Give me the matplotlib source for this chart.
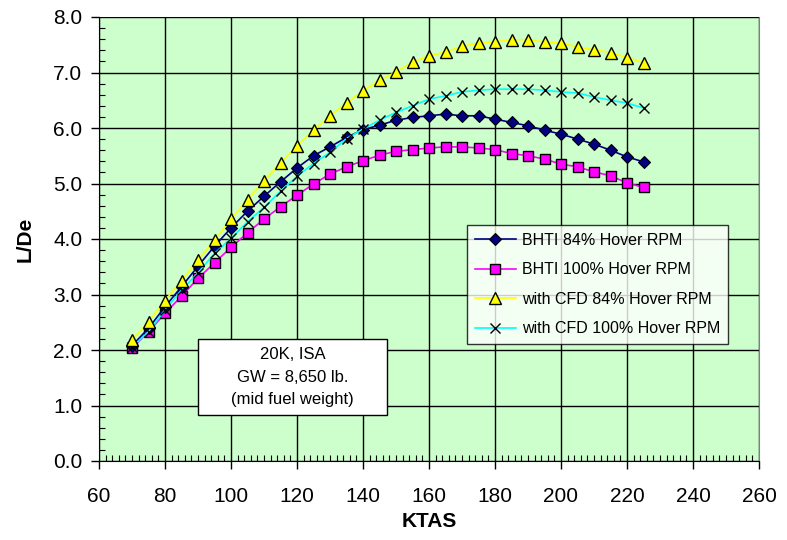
import matplotlib
matplotlib.use("Agg")
from matplotlib import pyplot as plt
from matplotlib.patches import Rectangle
from matplotlib.ticker import MultipleLocator, FormatStrFormatter

plt.rcParams['font.family'] = ['Liberation Sans', 'DejaVu Sans']

ktas = [70, 75, 80, 85, 90, 95, 100, 105, 110, 115, 120, 125, 130, 135, 140, 145,
        150, 155, 160, 165, 170, 175, 180, 185, 190, 195, 200, 205, 210, 215, 220, 225]

bhti_84 = [2.08, 2.39, 2.78, 3.14, 3.51, 3.87, 4.20, 4.50, 4.77, 5.03, 5.28, 5.50,
           5.66, 5.83, 5.97, 6.05, 6.14, 6.19, 6.22, 6.25, 6.22, 6.22, 6.16, 6.10,
           6.04, 5.96, 5.89, 5.80, 5.71, 5.60, 5.48, 5.39]
bhti_100 = [2.03, 2.33, 2.66, 2.97, 3.29, 3.57, 3.85, 4.11, 4.36, 4.58, 4.79, 4.99,
            5.17, 5.30, 5.41, 5.51, 5.58, 5.61, 5.64, 5.66, 5.66, 5.64, 5.61, 5.54,
            5.50, 5.44, 5.35, 5.30, 5.21, 5.14, 5.01, 4.93]
cfd_84 = [2.18, 2.51, 2.89, 3.25, 3.62, 3.98, 4.36, 4.71, 5.05, 5.37, 5.68, 5.96,
          6.22, 6.45, 6.67, 6.86, 7.01, 7.19, 7.30, 7.37, 7.47, 7.53, 7.55, 7.59,
          7.59, 7.55, 7.53, 7.46, 7.41, 7.36, 7.27, 7.18]
cfd_100 = [2.05, 2.33, 2.72, 3.08, 3.39, 3.74, 4.01, 4.31, 4.57, 4.86, 5.13, 5.36,
           5.56, 5.81, 5.98, 6.14, 6.28, 6.40, 6.52, 6.58, 6.65, 6.68, 6.70, 6.70,
           6.70, 6.68, 6.65, 6.63, 6.56, 6.50, 6.45, 6.36]

labels = ["BHTI 84% Hover RPM", "BHTI 100% Hover RPM",
          "with CFD 84% Hover RPM", "with CFD 100% Hover RPM"]
note = ["20K, ISA", "GW = 8,650 lb.", "(mid fuel weight)"]

fig = plt.figure(figsize=(7.87, 5.40), dpi=100)
ax = fig.add_axes([99/787, 1-461/540, 660/787, 444/540])
ax.set_facecolor("#ccffcc")

ax.plot(ktas, bhti_84, "-D", color="#000080", lw=1.2, ms=6.5,
        mfc="#000080", mec="black", mew=0.8, label=labels[0], zorder=4)
ax.plot(ktas, bhti_100, "-s", color="#ff00ff", lw=1.2, ms=6.5,
        mfc="#ff00ff", mec="black", mew=1.0, label=labels[1], zorder=3)
ax.plot(ktas, cfd_84, "-^", color="#ffff00", lw=1.2, ms=8,
        mfc="#ffff00", mec="black", mew=1.0, label=labels[2], zorder=5)
ax.plot(ktas, cfd_100, "-x", color="#00ffff", lw=1.2, ms=7,
        mec="black", mew=1.0, label=labels[3], zorder=4)

ax.set_xlim(60, 260)
ax.set_ylim(0, 8)
ax.xaxis.set_major_locator(MultipleLocator(20))
ax.xaxis.set_minor_locator(MultipleLocator(2))
ax.yaxis.set_major_locator(MultipleLocator(1))
ax.yaxis.set_minor_locator(MultipleLocator(0.2))
ax.yaxis.set_major_formatter(FormatStrFormatter("%.1f"))
ax.tick_params(which="major", direction="out", length=6, width=1, labelsize=15, colors="black")
ax.tick_params(axis="x", which="major", pad=13)
ax.tick_params(axis="y", which="major", pad=6)
ax.tick_params(which="minor", direction="in", length=4, width=0.8)
ax.grid(True, which="major", color="black", lw=1)
ax.set_axisbelow(True)
for s in ax.spines.values():
    s.set_color("black")
ax.spines["top"].set_visible(False)
ax.spines["right"].set_color("#808080")

ax.set_xlabel("KTAS", fontsize=15, fontweight="bold", labelpad=4)
ax.set_ylabel("L/De", fontsize=15, fontweight="bold", labelpad=13)

leg = ax.legend(loc="upper left", bbox_to_anchor=((466.7-99)/660, (461-225)/444),
                borderaxespad=0, fontsize=11.5, frameon=True, fancybox=False,
                handlelength=2.6, labelspacing=0.9, borderpad=0.5, handletextpad=0.35)
leg.get_frame().set_edgecolor("black")
leg.get_frame().set_linewidth(1)
leg.set_zorder(10)

# note box
x0, x1 = (198-99)/660, (387-99)/660
y0, y1 = (461-415)/444, (461-339)/444
ax.add_patch(Rectangle((x0, y0), x1-x0, y1-y0, transform=ax.transAxes,
                       facecolor="white", edgecolor="black", lw=1, zorder=8))
ax.text((x0+x1)/2, (y0+y1)/2, "\n".join(note), transform=ax.transAxes,
        ha="center", va="center", fontsize=12, linespacing=1.6, zorder=9)

fig.savefig("out.png", dpi=100)
